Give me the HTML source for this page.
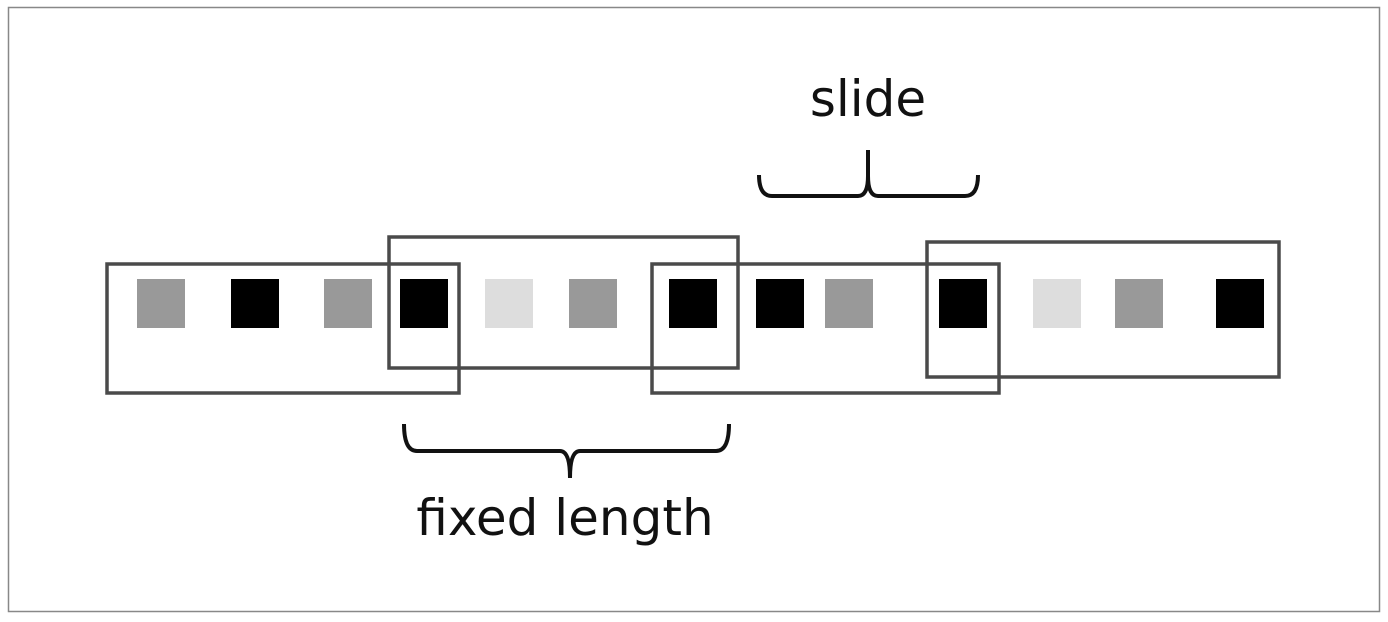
<!DOCTYPE html>
<html><head><meta charset="utf-8"><style>
html,body{margin:0;padding:0;background:#fff;}
svg{display:block;}
</style></head><body>
<svg width="1388" height="622" viewBox="0 0 1388 622">
<rect x="8.5" y="7.5" width="1371" height="604" fill="#fff" stroke="#888" stroke-width="1.5"/>
<g id="cells"></g>
<g id="wins"></g>
<path d="M759,175 Q759,196 772,196 L858,196 Q868,196 868,176 L868,150 M868,176 Q868,196 878,196 L965,196 Q978,196 978,175" fill="none" stroke="#111" stroke-width="4"/>
<path d="M404,424 Q404,451 417,451 L560,451 Q570,451 570,478 M570,478 Q570,451 580,451 L716,451 Q729,451 729,424" fill="none" stroke="#111" stroke-width="4"/>
<text x="868" y="116" text-anchor="middle" font-family="'DejaVu Sans','Liberation Sans',sans-serif" font-size="50" fill="#111">slide</text>
<text x="565" y="535" text-anchor="middle" font-family="'DejaVu Sans','Liberation Sans',sans-serif" font-size="50" fill="#111">fixed length</text>
</svg>
<script>
const cellX=[161,255,348,424,509,593,693,780,849,963,1057,1139,1240];
const cellColor=['#999','#000','#999','#000','#ddd','#999','#000','#000','#999','#000','#ddd','#999','#000'];
const winLeft=[107,389,652,927];
const winRight=[459,738,999,1279];
const winTop=[264,237,264,242];
const winBottom=[393,368,393,377];
const NS='http://www.w3.org/2000/svg';
const cg=document.getElementById('cells');
cellX.forEach((x,i)=>{
  const r=document.createElementNS(NS,'rect');
  r.setAttribute('x',x-24);r.setAttribute('y',279);
  r.setAttribute('width',48);r.setAttribute('height',49);
  r.setAttribute('fill',cellColor[i]);
  
  
  cg.appendChild(r);
});
const wg=document.getElementById('wins');
winLeft.forEach((l,i)=>{
  const r=document.createElementNS(NS,'rect');
  r.setAttribute('x',l);r.setAttribute('y',winTop[i]);
  r.setAttribute('width',winRight[i]-l);r.setAttribute('height',winBottom[i]-winTop[i]);
  r.setAttribute('fill','none');r.setAttribute('stroke','#4a4a4a');r.setAttribute('stroke-width','3.5');
  
  
  wg.appendChild(r);
});
</script>
</body></html>
